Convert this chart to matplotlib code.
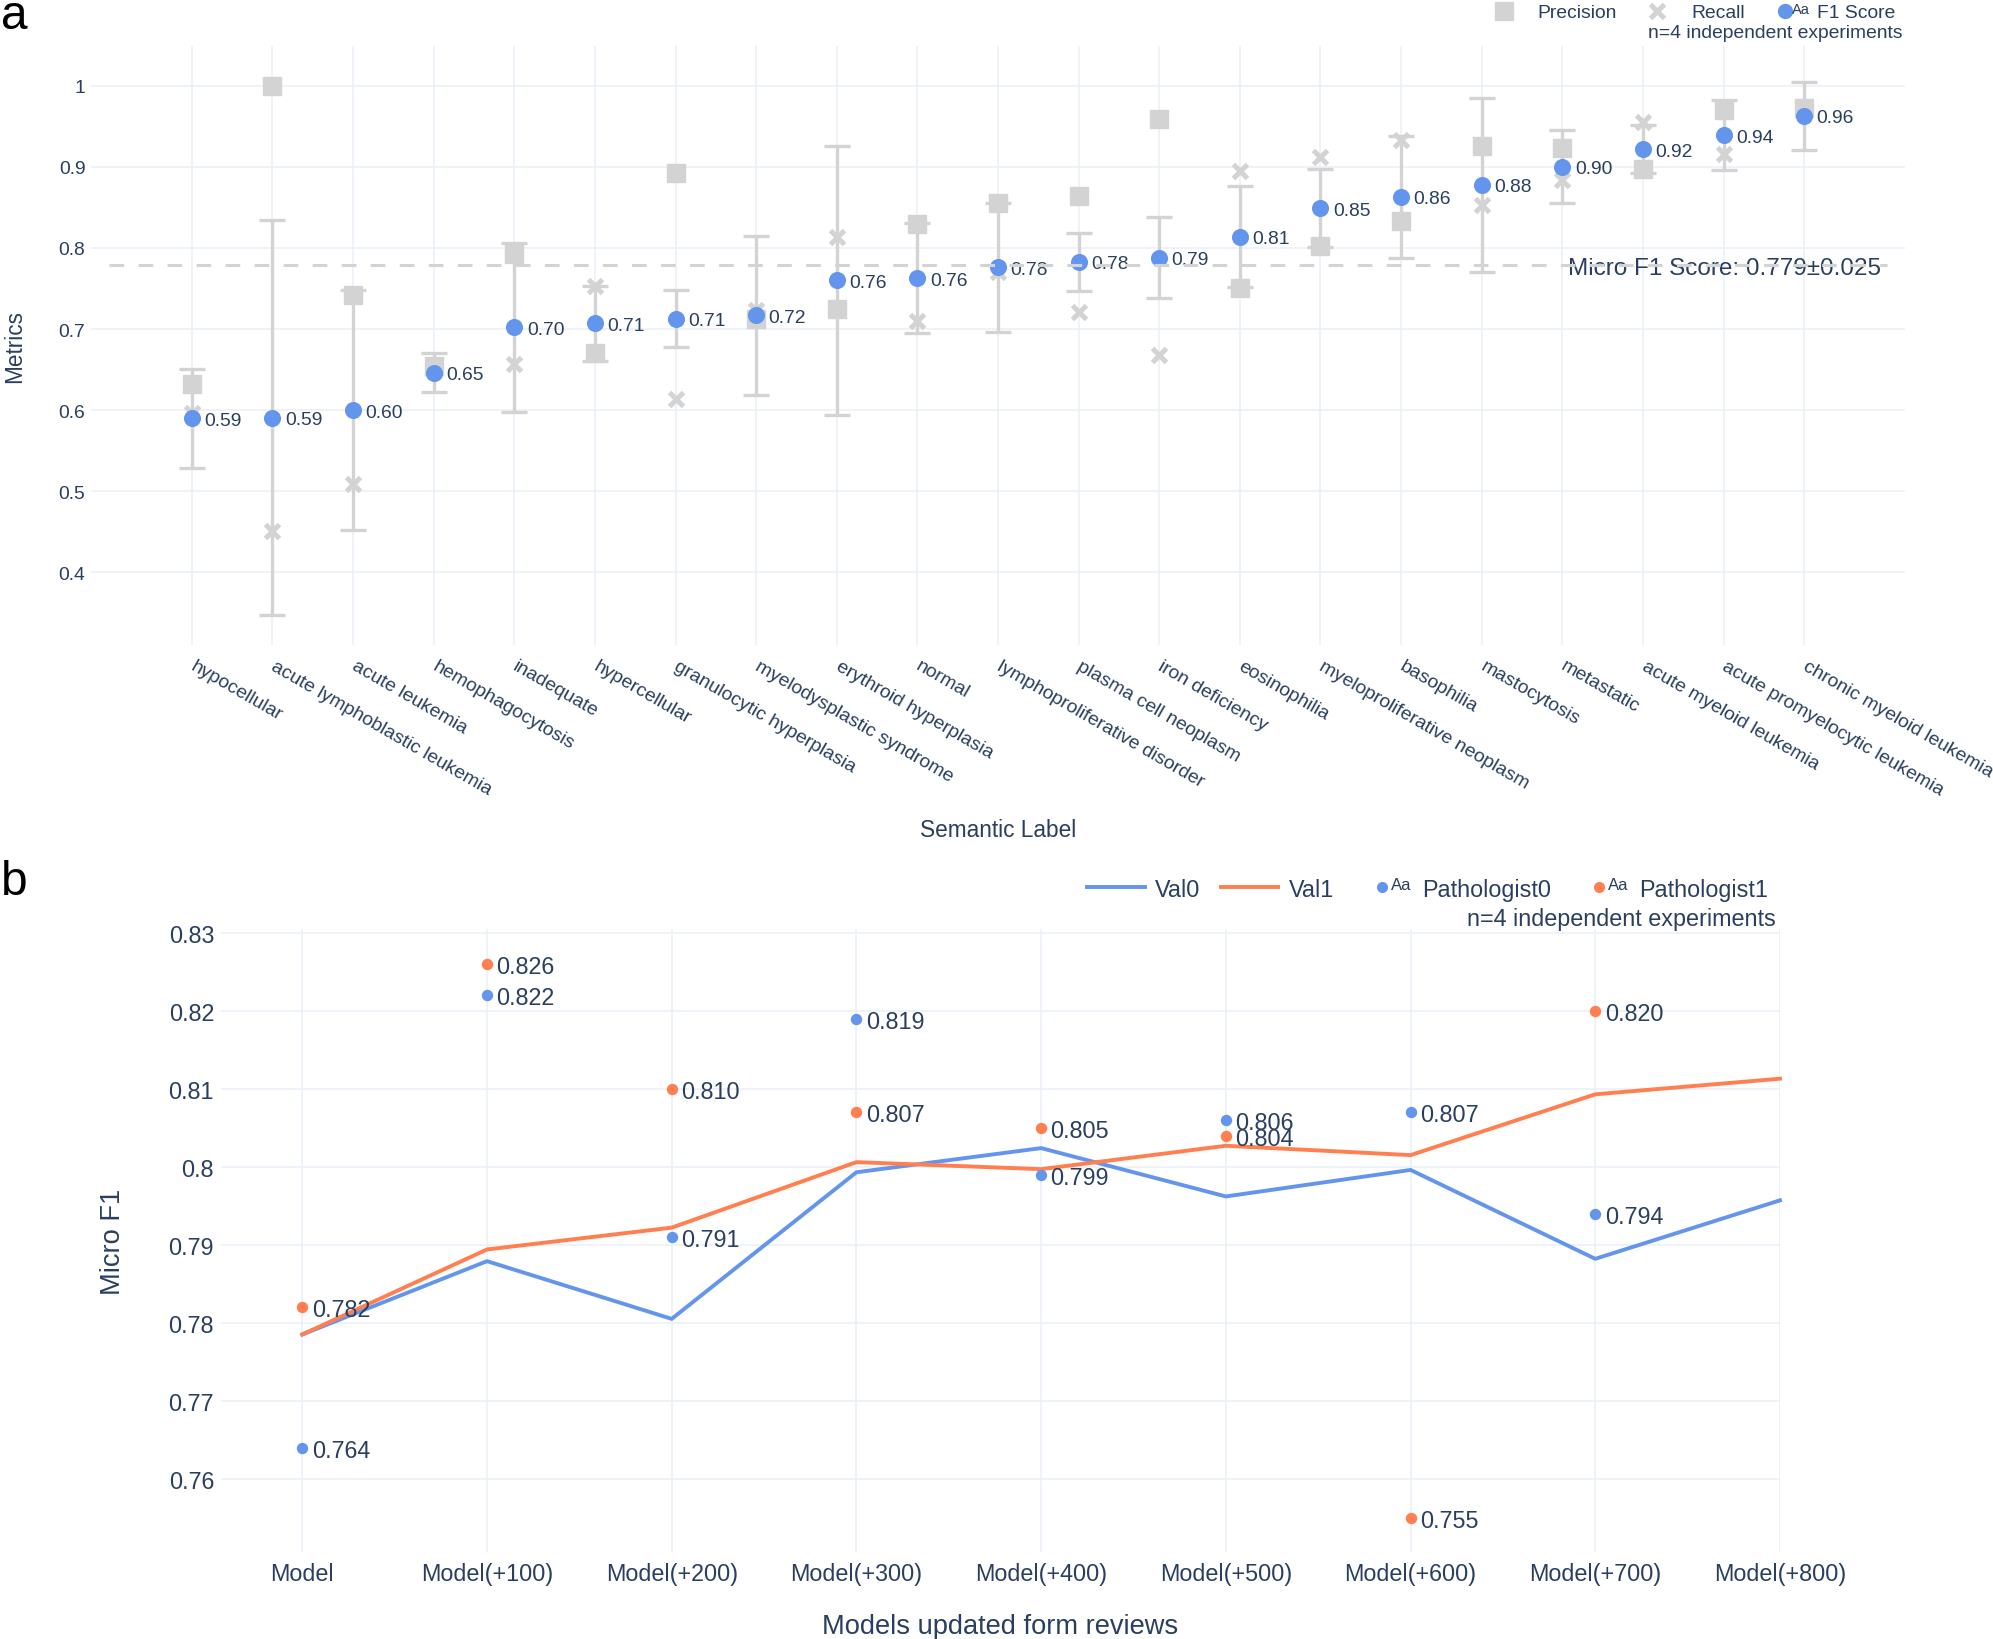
import matplotlib
matplotlib.use('Agg')
import matplotlib.pyplot as plt
import matplotlib.transforms as mtransforms
from matplotlib.lines import Line2D

plt.rcParams['font.family'] = ['Liberation Sans', 'DejaVu Sans']

W, H = 1993, 1640
TXT = '#2a3f5f'
GRID = '#ebf0f8'
BLUE = '#6495ED'
ORANGE = '#FF7F50'
GREY = '#d3d3d3'

# ---- panel a data ----
labels_a = ['hypocellular', 'acute lymphoblastic leukemia', 'acute leukemia', 'hemophagocytosis',
            'inadequate', 'hypercellular', 'granulocytic hyperplasia', 'myelodysplastic syndrome',
            'erythroid hyperplasia', 'normal', 'lymphoproliferative disorder', 'plasma cell neoplasm',
            'iron deficiency', 'eosinophilia', 'myeloproliferative neoplasm', 'basophilia',
            'mastocytosis', 'metastatic', 'acute myeloid leukemia', 'acute promyelocytic leukemia',
            'chronic myeloid leukemia']
f1 = [0.590, 0.591, 0.600, 0.646, 0.702, 0.707, 0.713, 0.717, 0.760, 0.763, 0.776, 0.783,
      0.788, 0.814, 0.849, 0.863, 0.878, 0.900, 0.922, 0.939, 0.963]
f1_err = [0.061, 0.243, 0.148, 0.024, 0.104, 0.046, 0.035, 0.098, 0.166, 0.068, 0.079, 0.036,
          0.050, 0.062, 0.048, 0.075, 0.107, 0.045, 0.030, 0.043, 0.042]
precision = [0.632, 1.000, 0.742, 0.655, 0.792, 0.670, 0.893, 0.712, 0.725, 0.829, 0.856, 0.864,
             0.959, 0.751, 0.802, 0.833, 0.926, 0.923, 0.897, 0.970, 0.972]
recall = [0.597, 0.451, 0.509, 0.648, 0.657, 0.753, 0.614, 0.724, 0.813, 0.710, 0.770, 0.721,
          0.668, 0.895, 0.912, 0.933, 0.853, 0.884, 0.955, 0.916, 0.968]
micro_f1 = 0.779
micro_f1_std = 0.025
yticks_a = [0.4, 0.5, 0.6, 0.7, 0.8, 0.9, 1.0]

# ---- panel b data ----
models_b = ['Model', 'Model(+100)', 'Model(+200)', 'Model(+300)', 'Model(+400)',
            'Model(+500)', 'Model(+600)', 'Model(+700)', 'Model(+800)']
val0 = [0.7785, 0.7879, 0.7805, 0.7993, 0.8024, 0.7962, 0.7996, 0.7882, 0.7957]
val1 = [0.7785, 0.7894, 0.7922, 0.8006, 0.7997, 0.8027, 0.8015, 0.8093, 0.8113]
path0 = [0.764, 0.822, 0.791, 0.819, 0.799, 0.806, 0.807, 0.794]
path1 = [0.782, 0.826, 0.810, 0.807, 0.805, 0.804, 0.755, 0.820]
yticks_b = [0.76, 0.77, 0.78, 0.79, 0.80, 0.81, 0.82, 0.83]


def fpx(x, y):
    return x / W, 1 - y / H


def gfmt(v):
    return f'{v:g}'


fig = plt.figure(figsize=(W / 100, H / 100), dpi=100)
fig.patch.set_facecolor('white')

# ================= panel a =================
ax = fig.add_axes([91 / W, 1 - 645.7 / H, 1814 / W, 599.2 / H])
xa = list(range(len(labels_a)))
ax.set_xlim(-1.25, len(labels_a) - 1 + 1.25)
ax.set_ylim(0.311, 1.0496)
for s in ax.spines.values():
    s.set_visible(False)
ax.set_axisbelow(True)
ax.set_xticks(xa)
ax.set_xticklabels(labels_a, rotation=-30, ha='left', va='center', rotation_mode='anchor',
                   fontsize=13.9, color=TXT)
ax.set_yticks(yticks_a)
ax.set_yticklabels([gfmt(v) for v in yticks_a], fontsize=13.9, color=TXT)
ax.tick_params(axis='both', length=0)
ax.tick_params(axis='y', pad=4)
ax.tick_params(axis='x', pad=14)
ax.grid(True, color=GRID, linewidth=1.2)

ax.plot(xa, precision, linestyle='none', marker='s', ms=12.5, color=GREY, zorder=3)
ax.plot(xa, recall, linestyle='none', marker='x', ms=10, color=GREY, markeredgewidth=3.6, zorder=3)
ax.errorbar(xa, f1, yerr=f1_err, fmt='none', ecolor=GREY, elinewidth=2.4, capsize=9.6,
            capthick=2.4, zorder=4)
ax.plot(xa, f1, linestyle='none', marker='o', ms=12.3, color=BLUE, markeredgewidth=0, zorder=5)
for x, v in zip(xa, f1):
    ax.annotate(f'{v:.2f}', (x, v), xytext=(9, 0), textcoords='offset points',
                ha='left', va='center_baseline', fontsize=13.9, color=TXT, zorder=6)

ax.axhline(micro_f1, xmin=0.01, xmax=0.99, color=GREY, lw=2.2, linestyle=(0, (4.8, 4.7)), zorder=10)
trans = mtransforms.blended_transform_factory(ax.transAxes, ax.transData)
ax.text(0.987, micro_f1, f'Micro F1 Score: {micro_f1}±{micro_f1_std}', transform=trans,
        ha='right', va='center_baseline', fontsize=17.5, color=TXT, zorder=9)

ax.set_ylabel('Metrics', fontsize=16.3, color=TXT)
ax.yaxis.set_label_coords(-0.0419, 0.5)
ax.yaxis.label.set_va('center')
ax.set_xlabel('Semantic Label', fontsize=16.3, color=TXT)
ax.xaxis.set_label_coords(0.5, -0.309)
ax.xaxis.label.set_va('center')

# legend a
fig.add_artist(Line2D([fpx(1504, 12)[0]], [fpx(1504, 12)[1]], marker='s', ms=12.5, color=GREY,
                      linestyle='none', transform=fig.transFigure))
fig.text(*fpx(1537, 12), 'Precision', ha='left', va='center_baseline', fontsize=13.9, color=TXT)
fig.add_artist(Line2D([fpx(1657, 12)[0]], [fpx(1657, 12)[1]], marker='x', ms=10, color=GREY,
                      markeredgewidth=3.6, linestyle='none', transform=fig.transFigure))
fig.text(*fpx(1691, 12), 'Recall', ha='left', va='center_baseline', fontsize=13.9, color=TXT)
fig.add_artist(Line2D([fpx(1785, 12)[0]], [fpx(1785, 12)[1]], marker='o', ms=11, color=BLUE,
                      markeredgewidth=0, linestyle='none', transform=fig.transFigure))
fig.text(*fpx(1792, 9), 'Aa', ha='left', va='center_baseline', fontsize=10.5, color=TXT)
fig.text(*fpx(1817, 12), 'F1 Score', ha='left', va='center_baseline', fontsize=13.9, color=TXT)
fig.text(*fpx(1902, 31), 'n=4 independent experiments', ha='right', va='center_baseline',
         fontsize=13.9, color=TXT)

# ================= panel b =================
bx = fig.add_axes([221 / W, 1 - 1553 / H, 1559 / W, 623 / H])
xb = list(range(len(models_b)))
bx.set_xlim(-0.44, len(models_b) - 1)
bx.set_ylim(0.7506, 0.8305)
for s in bx.spines.values():
    s.set_visible(False)
bx.set_axisbelow(True)
bx.set_xticks(xb)
bx.set_xticklabels(models_b, fontsize=16.8, color=TXT)
bx.set_yticks(yticks_b)
bx.set_yticklabels([gfmt(round(v, 2)) for v in yticks_b], fontsize=16.8, color=TXT)
bx.tick_params(axis='both', length=0)
bx.tick_params(axis='y', pad=5)
bx.tick_params(axis='x', pad=7)
bx.grid(True, color=GRID, linewidth=1.2)

bx.plot(xb, val0, color=BLUE, lw=2.8, zorder=3, clip_on=False)
bx.plot(xb, val1, color=ORANGE, lw=2.8, zorder=3, clip_on=False)
bx.plot(xb[:len(path0)], path0, linestyle='none', marker='o', ms=8.2, color=BLUE,
        markeredgewidth=0, zorder=4)
bx.plot(xb[:len(path1)], path1, linestyle='none', marker='o', ms=8.2, color=ORANGE,
        markeredgewidth=0, zorder=4)
for x, v in zip(xb, path0):
    bx.annotate(f'{v:.3f}', (x, v), xytext=(6.8, 0), textcoords='offset points',
                ha='left', va='center_baseline', fontsize=16.8, color=TXT, zorder=6)
for x, v in zip(xb, path1):
    bx.annotate(f'{v:.3f}', (x, v), xytext=(6.8, 0), textcoords='offset points',
                ha='left', va='center_baseline', fontsize=16.8, color=TXT, zorder=6)

bx.set_ylabel('Micro F1', fontsize=19.6, color=TXT)
bx.yaxis.set_label_coords(-0.0693, 0.5)
bx.yaxis.label.set_va('center')
bx.set_xlabel('Models updated form reviews', fontsize=19.6, color=TXT)
bx.xaxis.set_label_coords(0.5, -0.114)
bx.xaxis.label.set_va('center_baseline')

# legend b
for (x0, x1), c in [((1087, 1145), BLUE), ((1221, 1278), ORANGE)]:
    fig.add_artist(Line2D([fpx(x0, 888)[0], fpx(x1, 888)[0]], [fpx(x0, 888)[1]] * 2, color=c,
                          lw=2.8, transform=fig.transFigure))
fig.text(*fpx(1155, 888), 'Val0', ha='left', va='center_baseline', fontsize=16.8, color=TXT)
fig.text(*fpx(1289, 888), 'Val1', ha='left', va='center_baseline', fontsize=16.8, color=TXT)
for xd, xa_, xt, c, name in [(1382, 1391, 1422, BLUE, 'Pathologist0'),
                             (1599, 1608, 1639, ORANGE, 'Pathologist1')]:
    fig.add_artist(Line2D([fpx(xd, 888)[0]], [fpx(xd, 888)[1]], marker='o', ms=8, color=c,
                          markeredgewidth=0, linestyle='none', transform=fig.transFigure))
    fig.text(*fpx(xa_, 884), 'Aa', ha='left', va='center_baseline', fontsize=12, color=TXT)
    fig.text(*fpx(xt, 888), name, ha='left', va='center_baseline', fontsize=16.8, color=TXT)
fig.text(*fpx(1776, 917), 'n=4 independent experiments', ha='right', va='center_baseline',
         fontsize=16.8, color=TXT)

# panel letters
fig.text(*fpx(1, 29), 'a', ha='left', va='baseline', fontsize=34.5, color='black')
fig.text(*fpx(1, 895), 'b', ha='left', va='baseline', fontsize=34.5, color='black')

fig.savefig('out.png', dpi=100)
